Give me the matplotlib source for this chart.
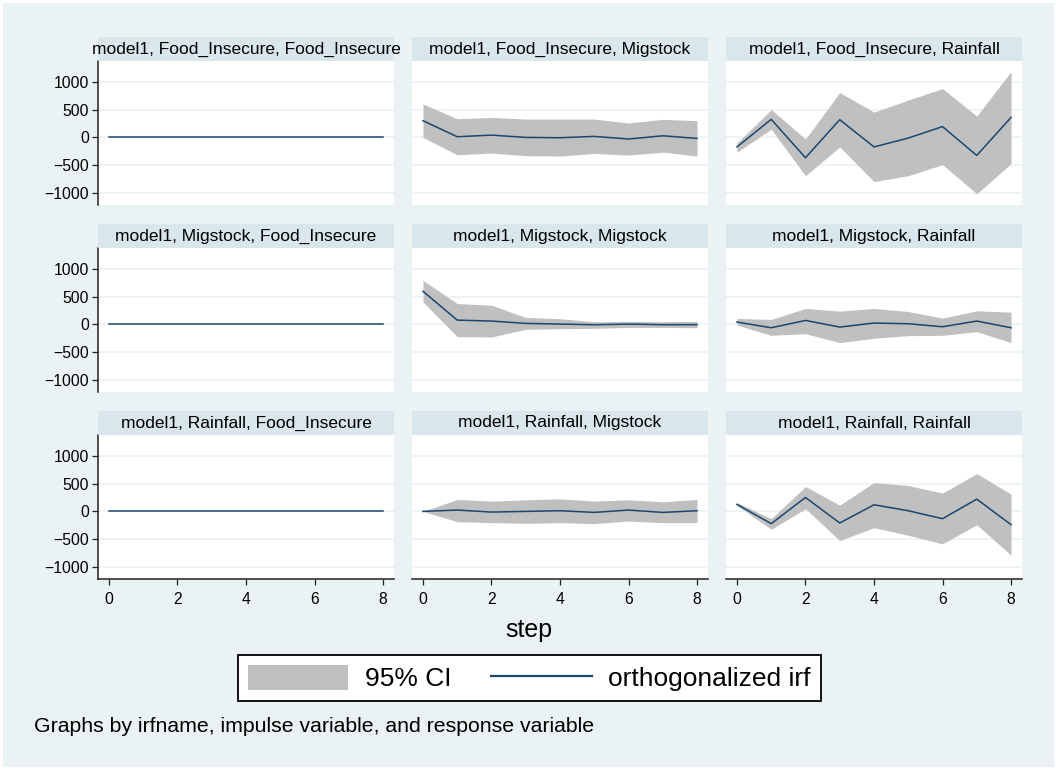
import matplotlib.pyplot as plt
from matplotlib.patches import Patch
from matplotlib.lines import Line2D

plt.rcParams['font.family'] = ['Liberation Sans', 'DejaVu Sans']

# variable names (impulse = rows, response = columns)
names = ['Food_Insecure', 'Migstock', 'Rainfall']
steps = [0, 1, 2, 3, 4, 5, 6, 7, 8]

# impulse Food_Insecure
irf_fi_fi = [0, 0, 0, 0, 0, 0, 0, 0, 0]
lo_fi_fi = [0, 0, 0, 0, 0, 0, 0, 0, 0]
hi_fi_fi = [0, 0, 0, 0, 0, 0, 0, 0, 0]
irf_fi_mig = [300, 12, 41, 0, -6, 18, -29, 29, -18]
lo_fi_mig = [0, -312, -282, -329, -335, -288, -318, -265, -335]
hi_fi_mig = [600, 335, 359, 329, 329, 329, 259, 324, 300]
irf_fi_rain = [-171, 324, -365, 318, -171, -12, 194, -324, 359]
lo_fi_rain = [-265, 147, -688, -171, -794, -688, -488, -1012, -471]
hi_fi_rain = [-100, 500, -29, 806, 453, 671, 876, 382, 1182]

# impulse Migstock
irf_mig_fi = [0, 0, 0, 0, 0, 0, 0, 0, 0]
lo_mig_fi = [0, 0, 0, 0, 0, 0, 0, 0, 0]
hi_mig_fi = [0, 0, 0, 0, 0, 0, 0, 0, 0]
irf_mig_mig = [595, 77, 60, 18, 6, -6, 5, -5, -5]
lo_mig_mig = [405, -220, -226, -89, -77, -71, -54, -54, -60]
hi_mig_mig = [792, 375, 345, 125, 101, 48, 54, 48, 54]
irf_mig_rain = [42, -60, 71, -48, 24, 12, -42, 60, -60]
lo_mig_rain = [-12, -196, -167, -327, -250, -202, -196, -131, -327]
hi_mig_rain = [107, 89, 286, 238, 286, 232, 113, 244, 220]

# impulse Rainfall
irf_rain_fi = [0, 0, 0, 0, 0, 0, 0, 0, 0]
lo_rain_fi = [0, 0, 0, 0, 0, 0, 0, 0, 0]
hi_rain_fi = [0, 0, 0, 0, 0, 0, 0, 0, 0]
irf_rain_mig = [0, 24, -12, 0, 12, -18, 24, -18, 12]
lo_rain_mig = [0, -185, -202, -214, -202, -220, -173, -202, -202]
hi_rain_mig = [0, 214, 185, 208, 226, 185, 208, 173, 214]
irf_rain_rain = [125, -220, 250, -208, 119, 12, -131, 220, -238]
lo_rain_rain = [107, -321, 48, -524, -292, -429, -583, -238, -786]
hi_rain_rain = [161, -131, 446, 113, 518, 464, 327, 679, 310]

irf = [[irf_fi_fi, irf_fi_mig, irf_fi_rain],
       [irf_mig_fi, irf_mig_mig, irf_mig_rain],
       [irf_rain_fi, irf_rain_mig, irf_rain_rain]]
lo = [[lo_fi_fi, lo_fi_mig, lo_fi_rain],
      [lo_mig_fi, lo_mig_mig, lo_mig_rain],
      [lo_rain_fi, lo_rain_mig, lo_rain_rain]]
hi = [[hi_fi_fi, hi_fi_mig, hi_fi_rain],
      [hi_mig_fi, hi_mig_mig, hi_mig_rain],
      [hi_rain_fi, hi_rain_mig, hi_rain_rain]]

yticks = [-1000, -500, 0, 500, 1000]
xticks = [0, 2, 4, 6, 8]

BG = '#eaf2f3'
STRIP = '#d9e6eb'
GRID = '#eaf2f3'
NAVY = '#1a476f'
CI = '#c0c0c0'
AXC = '#222222'

W, H = 1056, 769
fig = plt.figure(figsize=(W / 100, H / 100), dpi=100, facecolor=BG)
fig.patch.set_edgecolor('white')
fig.patch.set_linewidth(2.5)


def rect(x, y, w, h):
    # pixel box (top-left origin) -> figure fraction
    return [x / W, 1 - (y + h) / H, w / W, h / H]


col_x = [98, 412, 726]
row_y = [61, 248, 435]
pw, ph, sh = 296, 144, 24

for i in range(3):
    for j in range(3):
        ax = fig.add_axes(rect(col_x[j], row_y[i], pw, ph))
        ax.set_facecolor('white')
        ax.fill_between(steps, lo[i][j], hi[i][j], color=CI, lw=0, zorder=2)
        ax.plot(steps, irf[i][j], color=NAVY, lw=1.1, zorder=3)
        ax.set_xlim(-0.32, 8.32)
        ax.set_ylim(-1214, 1372)
        ax.set_yticks(yticks)
        ax.set_xticks(xticks)
        ax.grid(axis='y', color=GRID, lw=1.2, zorder=1)
        ax.grid(axis='x', visible=False)
        ax.set_axisbelow(True)
        for s in ax.spines.values():
            s.set_visible(False)
        if j == 0:
            ax.spines['left'].set_visible(True)
            ax.spines['left'].set_color(AXC)
            ax.spines['left'].set_linewidth(1.1)
            ax.tick_params(axis='y', length=4.5, width=0.9, color=AXC,
                           pad=2, labelsize=11.3)
        else:
            ax.tick_params(axis='y', left=False, labelleft=False)
        if i == 2:
            ax.spines['bottom'].set_visible(True)
            ax.spines['bottom'].set_color(AXC)
            ax.spines['bottom'].set_linewidth(1.1)
            ax.tick_params(axis='x', length=4.5, width=0.9, color=AXC,
                           pad=5, labelsize=11.3)
        else:
            ax.tick_params(axis='x', bottom=False, labelbottom=False)

        sax = fig.add_axes(rect(col_x[j], row_y[i] - sh, pw, sh))
        sax.set_facecolor(STRIP)
        sax.set_xticks([])
        sax.set_yticks([])
        for s in sax.spines.values():
            s.set_visible(False)
        sax.text(0.5, 0.5, f'model1, {names[i]}, {names[j]}',
                 ha='center', va='center', fontsize=12.5, clip_on=False,
                 transform=sax.transAxes)

fig.text(529 / W, 1 - 630 / H, 'step', ha='center', va='center', fontsize=18)

handles = [Patch(facecolor=CI, edgecolor='none'),
           Line2D([0], [0], color=NAVY, lw=1.6)]
leg = fig.legend(handles, ['95% CI', 'orthogonalized irf'], loc='center',
                 bbox_to_anchor=(529.5 / W, 1 - 678 / H), ncol=2, fontsize=19,
                 frameon=True, fancybox=False, handlelength=3.8,
                 handleheight=1.1, handletextpad=0.64, columnspacing=1.5,
                 borderpad=0.38, borderaxespad=0)
leg.get_frame().set_edgecolor('black')
leg.get_frame().set_linewidth(1.3)
leg.get_frame().set_facecolor('white')
leg.get_frame().set_alpha(1)

fig.text(34 / W, 1 - 726 / H,
         'Graphs by irfname, impulse variable, and response variable',
         ha='left', va='center', fontsize=15.3)

fig.savefig('out.png', dpi=100, facecolor=fig.get_facecolor(),
            edgecolor=fig.patch.get_edgecolor())
